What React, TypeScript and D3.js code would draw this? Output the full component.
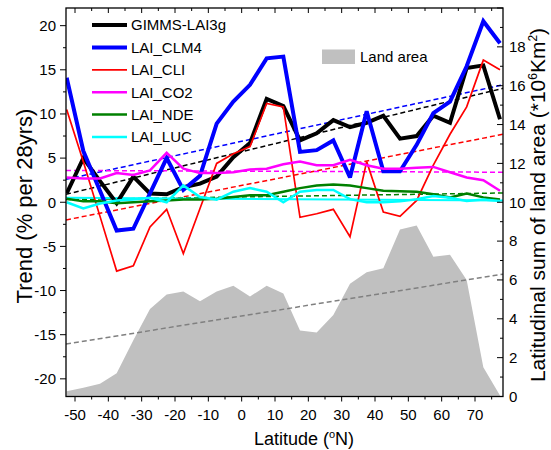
import React from 'react';
import * as d3 from 'd3';

// ---------- data ----------
const latitudes = [-52.5, -47.5, -42.5, -37.5, -32.5, -27.5, -22.5, -17.5, -12.5, -7.5, -2.5, 2.5, 7.5, 12.5, 17.5, 22.5, 27.5, 32.5, 37.5, 42.5, 47.5, 52.5, 57.5, 62.5, 67.5, 72.5, 77.5];
const gimms = [1.0, 5.0, 2.4, -0.1, 2.9, 1.0, 0.9, 1.7, 2.1, 2.9, 5.1, 6.7, 11.7, 10.9, 7.0, 7.8, 9.3, 8.5, 9.0, 9.8, 7.2, 7.5, 9.8, 9.0, 15.2, 15.5, 9.4];
const clm4 = [14.1, 5.8, 1.3, -3.2, -3.0, 1.0, 5.0, 1.4, 3.0, 8.9, 11.4, 13.3, 16.3, 16.5, 5.7, 5.9, 7.0, 2.8, 10.3, 3.5, 3.5, 6.5, 10.1, 11.4, 15.4, 20.5, 18.0];
const cli = [10.5, 4.6, -1.6, -7.8, -7.2, -2.8, -0.8, -5.8, -0.7, 4.4, 5.5, 6.3, 11.2, 10.8, -1.7, -1.3, -0.8, -3.9, 4.6, -1.1, -1.6, 0.2, 4.2, 7.7, 10.8, 16.1, 15.0];
const co2 = [2.8, 2.7, 2.7, 3.3, 3.1, 3.6, 5.6, 3.8, 3.3, 3.3, 3.4, 3.7, 3.8, 4.3, 4.6, 4.2, 4.2, 4.8, 4.2, 3.8, 3.8, 3.9, 4.0, 3.4, 2.8, 2.5, 1.3];
const nde = [0.4, 0.1, 0.1, -0.1, 0.0, 0.1, 0.2, 0.3, 0.3, 0.4, 0.6, 0.8, 0.8, 1.2, 1.6, 1.9, 2.0, 1.9, 1.6, 1.3, 1.25, 1.2, 0.9, 0.55, 1.0, 0.55, 0.3];
const luc = [0.0, -0.7, -0.15, 0.2, 0.3, 0.5, 0.0, 1.9, 0.6, 0.3, 1.2, 1.6, 1.2, 0.0, 1.2, 1.4, 1.4, 0.35, 0.0, 0.0, 0.1, 0.35, 0.7, 0.5, 0.15, 0.3, 0.15];
const landArea = [0.27, 0.45, 0.65, 1.2, 2.9, 4.5, 5.25, 5.4, 4.9, 5.4, 5.7, 5.15, 5.7, 5.3, 3.4, 3.3, 4.2, 5.8, 6.4, 6.6, 8.6, 8.8, 7.2, 7.3, 6.0, 1.5, 0.05];

const seriesNames = ['GIMMS-LAI3g', 'LAI_CLM4', 'LAI_CLI', 'LAI_CO2', 'LAI_NDE', 'LAI_LUC'];
const trendStart = [0.9, 2.6, -2.0, 3.6, 0.3, 0.5];
const trendEnd = [12.9, 13.3, 7.7, 3.4, 1.05, 0.2];
const landTrend = [2.7, 6.3];

const xTicks = [-50, -40, -30, -20, -10, 0, 10, 20, 30, 40, 50, 60, 70];
const leftTicks = [-20, -15, -10, -5, 0, 5, 10, 15, 20];
const rightTicks = [0, 2, 4, 6, 8, 10, 12, 14, 16, 18];

// ---------- styles ----------
const COLORS = ['#000000', '#0000ff', '#ff0000', '#ff00ff', '#008000', '#00ffff'];
const WIDTHS = [4, 4, 1.7, 2.5, 2.5, 2.5];
const FONT = '"Liberation Sans", Arial, sans-serif';

const W = 551, H = 450;
const L = 66, R = 503, T = 8, B = 396.5;

export default function App() {
  const allSeries = [gimms, clm4, cli, co2, nde, luc];
  const x = d3.scaleLinear().domain([-52.7, 78.4]).range([L, R]);
  const y = d3.scaleLinear().domain([-22, 22]).range([B, T]);
  const yR = d3.scaleLinear().domain([0, 20]).range([B, T]);

  const line = d3.line<number>().x((_, i) => x(latitudes[i])).y((d) => y(d));
  const area = d3.area<number>().x((_, i) => x(latitudes[i])).y0(yR(0)).y1((d) => yR(d));

  const xDom = x.domain();
  const xMinor = d3.range(-50, 80, 5);
  const leftMinor = d3.range(-22.5, 22.6, 2.5).filter((v) => v >= -22 && v <= 22);
  const rightMinor = d3.range(0, 20.1, 1);

  return (
    <svg width={W} height={H} style={{ position: 'absolute', left: 0, top: 0, background: '#fff' }} fontFamily={FONT}>
      <defs>
        <clipPath id="plot">
          <rect x={L} y={T} width={R - L} height={B - T} />
        </clipPath>
      </defs>
      <rect x={0} y={0} width={W} height={H} fill="#fff" />
      <g clipPath="url(#plot)">
        <path d={area(landArea) || ''} fill="#c0c0c0" stroke="none" />
        <line x1={x(xDom[0])} x2={x(xDom[1])} y1={yR(landTrend[0])} y2={yR(landTrend[1])}
          stroke="#808080" strokeWidth={1.5} strokeDasharray="5,3" />
        {allSeries.map((_, k) => (
          <line key={'t' + k} x1={x(xDom[0])} x2={x(xDom[1])} y1={y(trendStart[k])} y2={y(trendEnd[k])}
            stroke={COLORS[k]} strokeWidth={k === 5 ? 2 : 1.5} strokeDasharray={k === 5 ? undefined : '5,3'} />
        ))}
        {allSeries.map((s, k) => (
          <path key={'s' + k} d={line(s) || ''} fill="none" stroke={COLORS[k]} strokeWidth={WIDTHS[k]}
            strokeLinejoin="miter" strokeMiterlimit={3} />
        ))}
      </g>
      {/* frame */}
      <rect x={L} y={T} width={R - L} height={B - T} fill="none" stroke="#000" strokeWidth={1.3} />
      {/* bottom / top axis ticks */}
      {xMinor.map((v) => (
        <line key={'bx' + v} x1={x(v)} x2={x(v)} y1={B} y2={B + (v % 10 === 0 ? 5 : 3)} stroke="#000" strokeWidth={1} />
      ))}
      {xMinor.map((v) => (
        <line key={'tx' + v} x1={x(v)} x2={x(v)} y1={T} y2={T + (v % 10 === 0 ? 5 : 3)} stroke="#000" strokeWidth={1} />
      ))}
      {xTicks.map((v) => (
        <text key={'xl' + v} x={x(v)} y={420} textAnchor="middle" fontSize={15}>{v}</text>
      ))}
      {/* left axis */}
      {leftMinor.map((v) => (
        <line key={'lm' + v} x1={L} x2={L - (v % 5 === 0 ? 6 : 3)} y1={y(v)} y2={y(v)} stroke="#000" strokeWidth={1} />
      ))}
      {leftTicks.map((v) => (
        <text key={'ll' + v} x={56} y={y(v) + 5.3} textAnchor="end" fontSize={15}>{v}</text>
      ))}
      {/* right axis */}
      {rightMinor.map((v) => (
        <line key={'rm' + v} x1={R} x2={R - (v % 2 === 0 ? 6 : 3)} y1={yR(v)} y2={yR(v)} stroke="#000" strokeWidth={1} />
      ))}
      {rightTicks.map((v) => (
        <text key={'rl' + v} x={509} y={yR(v) + 5.3} textAnchor="start" fontSize={15}>{v}</text>
      ))}
      {/* axis titles */}
      <text x={304} y={445} textAnchor="middle" fontSize={18}>
        Latitude (<tspan dy={-7} fontSize={11}>o</tspan><tspan dy={7}>N)</tspan>
      </text>
      <text transform="translate(32,206) rotate(-90)" textAnchor="middle" fontSize={22}>Trend (% per 28yrs)</text>
      <text transform="translate(545,205) rotate(-90)" textAnchor="middle" fontSize={21}>
        Latitudinal sum of land area (*10<tspan dy={-8} fontSize={12}>6</tspan><tspan dy={8}>Km</tspan><tspan dy={-8} fontSize={12}>2</tspan><tspan dy={8}>)</tspan>
      </text>
      {/* legend */}
      {seriesNames.map((n, k) => {
        const cy = 25 + 22.4 * k;
        return (
          <g key={'lg' + k}>
            <line x1={92} x2={127} y1={cy} y2={cy} stroke={COLORS[k]} strokeWidth={WIDTHS[k]} />
            <text x={131} y={cy + 5.4} fontSize={15}>{n}</text>
          </g>
        );
      })}
      <rect x={322} y={49.5} width={33} height={14.5} fill="#c0c0c0" />
      <text x={360} y={62} fontSize={15}>Land area</text>
    </svg>
  );
}
